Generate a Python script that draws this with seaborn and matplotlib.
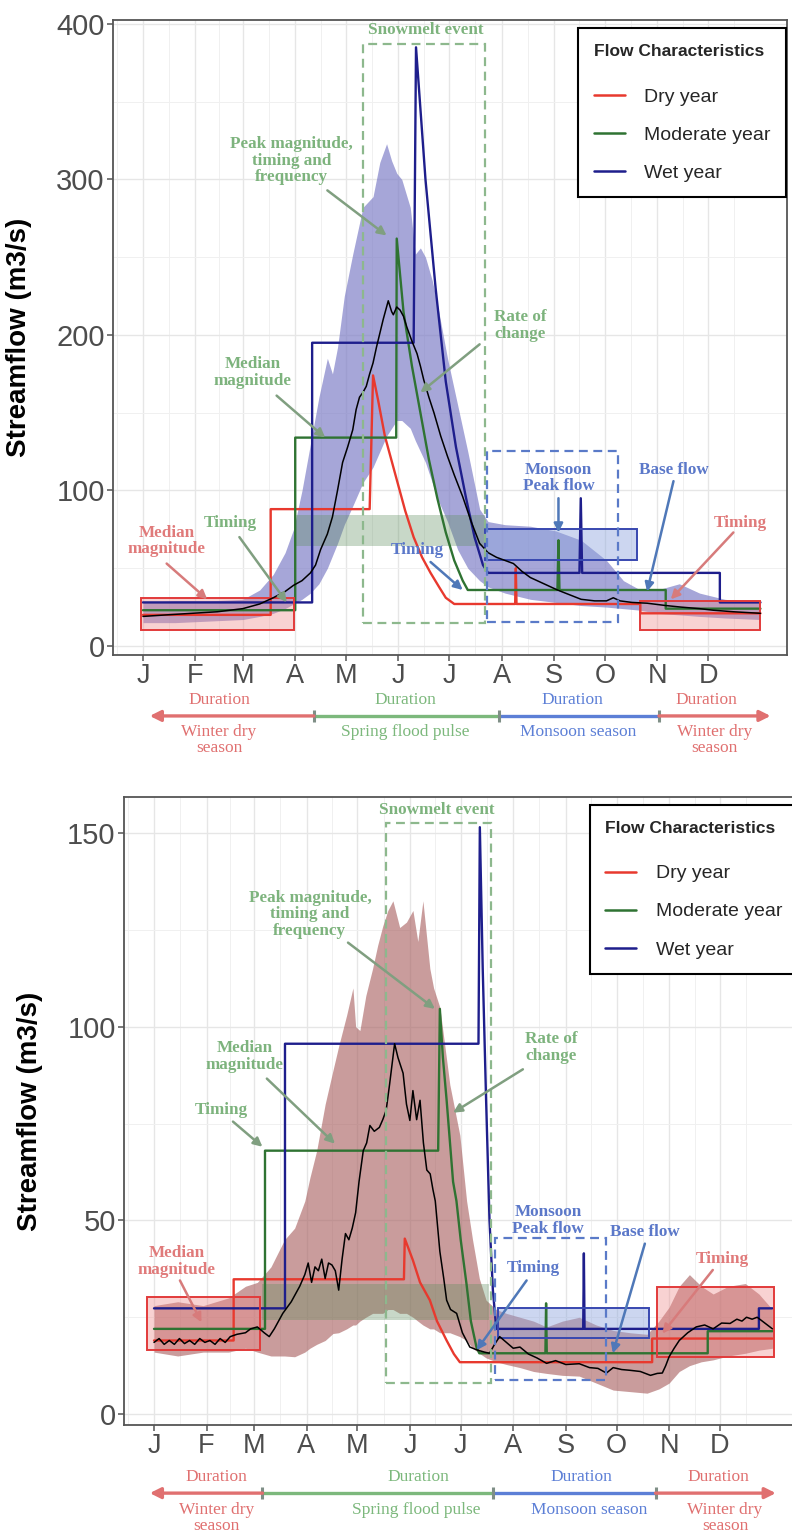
import matplotlib
matplotlib.use("Agg")
import matplotlib.pyplot as plt
from matplotlib.patches import Rectangle
from matplotlib.lines import Line2D
import numpy as np
import pandas as pd
import seaborn as sns

sns.set_theme(style="whitegrid")
plt.rcParams["font.family"] = ["Liberation Sans", "DejaVu Sans"]

# ---------------------------------------------------------------- calendar
MONTH_START = [1, 32, 60, 91, 121, 152, 182, 213, 244, 274, 305, 335]
MONTH_LABELS = ["J", "F", "M", "A", "M", "J", "J", "A", "S", "O", "N", "D"]
YEAR_NAMES = ["Dry year", "Moderate year", "Wet year"]

# ================================================================ upper site
top_median = [
    (1, 19), (15, 20), (30, 21), (45, 22), (60, 24), (70, 27), (78, 31), (85, 35),
    (90, 39), (95, 42), (100, 47), (103, 52), (106, 62), (110, 72), (113, 83),
    (116, 100), (119, 118), (122, 128), (125, 139), (127, 152), (129, 160),
    (131, 163), (133, 167), (135, 175), (137, 182), (139, 192), (141, 201),
    (143, 210), (146, 222), (148, 215), (149, 213), (151, 218), (153, 216),
    (155, 212), (157, 205), (160, 196), (163, 188), (165, 180), (167, 171),
    (170, 160), (173, 150), (177, 135), (181, 122), (185, 110), (190, 96),
    (195, 80), (200, 66), (205, 60), (210, 57), (215, 55), (220, 53), (225, 48),
    (230, 44), (238, 40), (246, 36), (253, 33), (260, 30), (268, 29), (275, 29),
    (279, 31), (283, 29), (290, 28), (299, 27.5), (310, 26), (319, 25), (330, 24),
    (338, 23), (350, 22), (358, 21.5), (366, 21),
]
top_band_doy = [1, 20, 40, 60, 70, 78, 85, 90, 95, 100, 105, 110, 113, 116, 120,
                125, 131, 137, 141, 145, 148, 151, 154, 159, 162, 165, 168, 172,
                175, 181, 187, 193, 200, 205, 215, 230, 245, 260, 275, 285, 295,
                305, 318, 330, 345, 366]
top_band_low = [15, 15, 16, 17, 19, 21, 24, 27, 30, 34, 40, 50, 58, 66, 78, 90,
                105, 115, 125, 135, 140, 145, 145, 140, 132, 125, 118, 105, 95,
                80, 62, 50, 42, 38, 34, 30, 28, 26, 25, 24, 23, 21, 20, 19, 18, 17]
top_band_high = [28, 29, 29, 30, 36, 46, 60, 75, 100, 130, 160, 185, 175, 192,
                 225, 252, 282, 289, 311, 323, 312, 304, 300, 282, 252, 256, 250,
                 235, 220, 185, 155, 125, 88, 80, 78, 77, 74, 68, 55, 42, 36, 36,
                 40, 34, 30, 28]
top_dry = [
    (1, 20), (76.5, 20), (76.5, 88), (135, 88), (137, 174), (140, 158), (144, 135),
    (151, 107), (156, 87), (161, 70), (166, 57), (171, 47), (176, 38), (180, 31),
    (185, 27), (221, 27), (221.4, 50), (221.8, 27), (295, 27), (295, 21), (366, 21),
]
top_moderate = [
    (1, 23), (91, 23), (91, 134), (150.7, 134), (151, 262), (155, 215), (160, 180),
    (165, 150), (170, 120), (175, 95), (180, 73), (185, 55), (190, 42), (193, 36),
    (246, 36), (246.6, 68), (247.2, 36), (310, 36), (310, 24), (366, 24),
]
top_wet = [
    (1, 28), (101, 28), (101, 195), (161, 195), (162.4, 385), (168, 300), (174, 230),
    (180, 170), (186, 128), (192, 95), (197, 70), (202, 52), (205, 47), (259, 47),
    (259.8, 95), (260.6, 47), (342, 47), (342, 28), (366, 28),
]
# (start day, end day, low flow, high flow)
top_dry_boxes = [(0, 90, 10, 31), (295, 366, 10, 29)]
top_spring_box = (90, 203, 64, 84)
top_monsoon_box = (203, 293, 55, 75)
top_snowmelt_window = (131, 203, 15, 387)
top_monsoon_window = (204.6, 282, 15.6, 125.6)
top_season_edges = [5, 102, 211.5, 306, 372]
top_duration_x = [46, 156, 255, 334]
top_season_x = [46, 156, 258, 339]

# ================================================================ lower site
bot_median = [
    (1, 18.5), (4, 19.5), (7, 18), (10, 19), (13, 18), (16, 19.5), (19, 18.2),
    (22, 19), (25, 18), (28, 19.5), (31, 18.5), (34, 19), (37, 18), (40, 19.5),
    (43, 18.5), (46, 20), (50, 20.6), (55, 21), (58, 22), (62, 22.5), (66, 21),
    (69, 20), (72, 22), (77, 26), (82, 29), (87, 33), (90, 36), (92, 39), (94, 34),
    (96, 38), (98, 37), (100, 40), (102, 35), (104, 39), (106, 38.5), (108, 37),
    (110, 32), (112, 40), (114, 46.6), (116, 45), (118, 48), (120, 52), (122, 60),
    (124.5, 68), (126.5, 70), (128.4, 74.5), (131, 73), (134, 74), (136, 76),
    (138, 78.4), (140, 85), (143, 95.6), (145, 92), (148, 88), (150, 80),
    (152, 75.8), (153.8, 83.5), (156, 76), (158, 81), (160, 70), (162, 63),
    (164, 62), (165.6, 58), (167, 55), (169.7, 42), (172, 35), (173.7, 29.4),
    (176, 27), (179.6, 26), (183, 21), (187.4, 17.3), (192, 16.5), (196, 16),
    (199, 15.7), (202, 18), (205, 20), (209, 18.5), (213, 17), (217, 17.3),
    (222, 15.5), (227, 14.5), (232.7, 13.1), (238, 13.8), (244, 12.8), (252, 13),
    (258, 12), (263, 11.8), (268, 10.6), (272, 12), (277, 11.5), (282, 11.3),
    (288, 11), (294, 10), (298, 10.5), (301, 10.6), (303, 12.5), (305, 14.8),
    (308, 17), (311, 19), (316, 21), (321, 22.5), (326, 23), (331, 22), (336, 23.5),
    (341, 23.4), (345, 24.5), (348, 24), (350.7, 25), (354, 24.5), (357, 25),
    (360, 24), (363, 23), (366, 22),
]
bot_band_doy = [1, 15, 30, 45, 55, 62, 70, 78, 84, 90, 93, 97, 102, 106.6, 110,
                114.7, 118.4, 120, 122.5, 126, 130, 133, 136, 139, 142, 146, 150,
                153.8, 156.7, 159.7, 163.8, 166, 169.7, 175.6, 181.5, 185.5, 189,
                193, 197, 203, 209, 217, 225, 232.7, 242, 252, 262, 272, 282, 292,
                299, 305, 311, 317, 324, 331, 340, 350, 358, 366]
bot_band_low = [16, 15, 16, 16, 17, 16, 15, 15, 14.8, 16, 17, 18, 19, 20.8, 21,
                22, 23, 23, 24, 25, 26, 26, 26, 27, 27, 26, 26, 25, 24, 23, 22, 22,
                21, 21, 20, 19, 17, 15.7, 14.5, 13.5, 12.8, 12, 11, 10.5, 10, 9.8,
                8, 6.2, 5.8, 5.4, 6.5, 8, 11, 12.5, 13.5, 14, 15, 15.7, 16.5, 17]
bot_band_high = [28, 29, 28, 30, 33, 34, 38, 45, 48, 55, 61, 68, 80, 88.7, 95,
                 103, 110, 100, 99, 108, 115, 121, 126, 130, 132.5, 125.6, 127, 130,
                 122, 132.5, 115, 110, 105, 85, 72, 55, 45, 35, 29.4, 27, 26, 25, 24,
                 22.5, 24, 25, 23, 21.6, 21, 20.6, 24, 27.6, 33, 36, 33, 31, 33,
                 33.7, 31, 27]
bot_dry = [
    (1, 19), (48, 19), (48, 34.8), (148.5, 34.8), (149, 45.3), (153.8, 39.7),
    (158, 34), (163.8, 29.4), (168, 24), (173.7, 19), (178, 15.5), (181.5, 13.4),
    (295, 13.4), (295, 19.5), (366, 19.5),
]
bot_moderate = [
    (1, 22), (66.5, 22), (66.5, 68), (168.7, 68), (169.7, 104.6), (171.5, 92),
    (173.7, 81), (177.5, 60), (179.5, 55), (182, 45), (185.4, 33.7), (188, 24),
    (191.3, 17.3), (193, 15.7), (232, 15.7), (232.4, 28.6), (232.8, 15.7),
    (327.8, 15.7), (327.8, 21.4), (366, 21.4),
]
bot_wet = [
    (1, 27.3), (78.3, 27.3), (78.3, 95.6), (192.5, 95.6), (193.3, 151.5), (195, 115),
    (197, 81), (199, 50), (201, 32), (203, 22), (254.3, 22), (254.7, 41.5),
    (255.1, 22), (358, 22), (358, 27.3), (366, 27.3),
]
bot_dry_boxes = [(-3, 63.5, 16.5, 30.2), (297.6, 367, 14.8, 32.8)]
bot_spring_box = (65, 199, 24.2, 33.7)
bot_monsoon_box = (204, 293, 19.6, 27.3)
bot_snowmelt_window = (138, 200, 8, 152.5)
bot_monsoon_window = (202, 268, 8.8, 45.4)
bot_season_edges = [-1.5, 65, 201, 297, 368]
bot_duration_x = [38, 157, 253, 334]
bot_season_x = [38, 156, 258, 338]

# ---------------------------------------------------------------- styling
DRY_C, MOD_C, WET_C = "#E8392E", "#2F7332", "#1E1E8C"
TXT_G, TXT_R, TXT_B = "#7DB37D", "#E07A7A", "#5B78C9"
ARR_G, ARR_R, ARR_B = "#809F80", "#D77B7B", "#4F78B8"
SERIF = ["Liberation Serif", "DejaVu Serif"]
XLIM = (-16.7, 381.7)

fig = plt.figure(figsize=(7.92, 15.35), dpi=100)
ax_top = fig.add_axes([0.1427, 0.5733, 0.8510, 0.4137])
ax_bot = fig.add_axes([0.1566, 0.0717, 0.8523, 0.4091])


def to_frame(pts):
    return pd.DataFrame(pts, columns=["doy", "flow"])


def draw_box(ax, box, face, edge, alpha, lw, z):
    x0, x1, y0, y1 = box
    ax.add_patch(Rectangle((x0, y0), x1 - x0, y1 - y0, facecolor=face,
                           alpha=alpha, edgecolor="none", zorder=z))
    if edge is not None:
        ax.add_patch(Rectangle((x0, y0), x1 - x0, y1 - y0, facecolor="none",
                               edgecolor=edge, lw=lw, zorder=z + 2))


def draw_window(ax, box, color):
    x0, x1, y0, y1 = box
    ax.add_patch(Rectangle((x0, y0), x1 - x0, y1 - y0, facecolor="none",
                           edgecolor=color, lw=1.6, ls=(0, (4, 2.5)), zorder=6))


def note(ax, text, xy, color, start=None, end=None, arrow_color=None):
    ax.text(xy[0], xy[1], text, color=color, family=SERIF, weight="bold",
            fontsize=12.3, ha="center", va="center", linespacing=1.05, zorder=8)
    if start is not None:
        ax.annotate("", xy=end, xytext=start, zorder=8,
                    arrowprops=dict(arrowstyle="-|>", color=arrow_color, lw=1.8,
                                    mutation_scale=13, shrinkA=0, shrinkB=0))


def seasons(ax, edges, dur_x, season_x, y_dur, y_line, y_label):
    red, green, blue = "#E07070", "#7CB87C", "#5C7FD6"
    kw = dict(annotation_clip=False)
    ax.annotate("", xy=(edges[0], y_line), xytext=(edges[1], y_line), **kw,
                arrowprops=dict(arrowstyle="-|>", color=red, lw=2.4,
                                mutation_scale=16, shrinkA=0, shrinkB=0))
    ax.plot([edges[1], edges[2]], [y_line, y_line], color=green, lw=2.4,
            clip_on=False, solid_capstyle="butt")
    ax.plot([edges[2], edges[3]], [y_line, y_line], color=blue, lw=2.4,
            clip_on=False, solid_capstyle="butt")
    ax.annotate("", xy=(edges[4], y_line), xytext=(edges[3], y_line), **kw,
                arrowprops=dict(arrowstyle="-|>", color=red, lw=2.4,
                                mutation_scale=16, shrinkA=0, shrinkB=0))
    ax.plot(edges[1:4], [y_line] * 3, ls="none", marker="|", ms=9, mew=2.2,
            color="#7F8F86", clip_on=False)
    cols = [red, green, blue, red]
    labels = ["Winter dry\nseason", "Spring flood pulse", "Monsoon season",
              "Winter dry\nseason"]
    for x, c in zip(dur_x, cols):
        ax.text(x, y_dur, "Duration", color=c, family=SERIF, fontsize=12.5,
                ha="center", va="center", clip_on=False)
    for x, c, lab in zip(season_x, cols, labels):
        ax.text(x, y_label, lab, color=c, family=SERIF, fontsize=12.5,
                ha="center", va="top", linespacing=1.0, clip_on=False)


def panel(ax, median, band_doy, band_low, band_high, band_color, band_alpha,
          years, dry_boxes, spring_box, monsoon_box, snow_win, mon_win, ylim,
          yticks, yminor):
    ax.fill_between(band_doy, band_low, band_high, color=band_color,
                    alpha=band_alpha, lw=0, zorder=1)
    for b in dry_boxes:
        draw_box(ax, b, "#EE8A8A", "#E23A3A", 0.38, 1.4, 2)
    draw_box(ax, spring_box, "#5E8F5E", None, 0.34, 0.8, 2)
    draw_box(ax, monsoon_box, "#8FA6DE", "#3848B0", 0.45, 1.4, 2)

    frames = []
    for name, pts in zip(YEAR_NAMES, years):
        df = to_frame(pts)
        df["year"] = name
        frames.append(df)
    long = pd.concat(frames, ignore_index=True)
    sns.lineplot(data=long, x="doy", y="flow", hue="year", hue_order=YEAR_NAMES,
                 palette=[DRY_C, MOD_C, WET_C], estimator=None, sort=False,
                 lw=1.7, legend=False, ax=ax, zorder=3)
    sns.lineplot(data=to_frame(median), x="doy", y="flow", color="black",
                 estimator=None, sort=False, lw=1.1, ax=ax, zorder=5)

    draw_window(ax, snow_win, "#8DB88D")
    draw_window(ax, mon_win, "#5A7AC8")

    ax.set_xlim(*XLIM)
    ax.set_ylim(*ylim)
    ax.set_xticks(MONTH_START)
    ax.set_xticklabels(MONTH_LABELS)
    mids = [(a + b) / 2 for a, b in zip(MONTH_START, MONTH_START[1:] + [366])]
    ax.set_xticks([-14.5] + mids, minor=True)
    ax.set_yticks(yticks)
    ax.set_yticks(yminor, minor=True)
    ax.grid(which="major", color="#E6E6E6", lw=1.0)
    ax.grid(which="minor", color="#F0F0F0", lw=0.7)
    ax.set_axisbelow(True)
    ax.tick_params(which="major", length=4, width=1.1, color="#555555",
                   labelcolor="#4D4D4D", pad=2, bottom=True, left=True)
    ax.tick_params(axis="y", labelsize=21)
    ax.tick_params(axis="x", labelsize=19.5)
    ax.tick_params(which="minor", length=0)
    for sp in ax.spines.values():
        sp.set_edgecolor("#555555")
        sp.set_linewidth(1.3)
    ax.set_xlabel("")
    ax.set_ylabel("Streamflow (m3/s)", fontsize=20, weight="bold", color="black")
    ax.yaxis.set_label_coords(-0.12, 0.5)

    handles = [Line2D([0], [0], color=c, lw=1.8) for c in (DRY_C, MOD_C, WET_C)]
    leg = ax.legend(handles, YEAR_NAMES, title="Flow Characteristics",
                    loc="upper left", bbox_to_anchor=(0.69, 0.987),
                    borderaxespad=0, fontsize=14, title_fontsize=12.5,
                    frameon=True, fancybox=False, edgecolor="black",
                    framealpha=1, handlelength=1.6, handletextpad=1.0,
                    labelspacing=1.05, borderpad=0.8, alignment="left")
    leg.get_title().set_weight("bold")
    leg.get_frame().set_linewidth(1.5)
    leg._legend_box.sep = 21
    leg.set_zorder(10)


panel(ax_top, top_median, top_band_doy, top_band_low, top_band_high, "#8080C8",
      0.7, [top_dry, top_moderate, top_wet], top_dry_boxes, top_spring_box,
      top_monsoon_box, top_snowmelt_window, top_monsoon_window, (-5.8, 402.6),
      [0, 100, 200, 300, 400], [50, 150, 250, 350])
panel(ax_bot, bot_median, bot_band_doy, bot_band_low, bot_band_high, "#A86060",
      0.62, [bot_dry, bot_moderate, bot_wet], bot_dry_boxes, bot_spring_box,
      bot_monsoon_box, bot_snowmelt_window, bot_monsoon_window, (-2.8, 159.3),
      [0, 50, 100, 150], [25, 75, 125])

# annotations: upper site
note(ax_top, "Snowmelt event", (168, 396), TXT_G)
note(ax_top, "Peak magnitude,\ntiming and\nfrequency", (89, 312), TXT_G,
     (110, 293), (145, 264), ARR_G)
note(ax_top, "Rate of\nchange", (224, 206), TXT_G, (200, 194), (165, 163), ARR_G)
note(ax_top, "Median\nmagnitude", (66, 176), TXT_G, (80, 161), (108.7, 134), ARR_G)
note(ax_top, "Timing", (52.5, 79), TXT_G, (58, 70), (86, 28), ARR_G)
note(ax_top, "Median\nmagnitude", (15, 67.5), TXT_R, (15, 53), (39, 30), ARR_R)
note(ax_top, "Timing", (163, 62), TXT_B, (171, 54), (190, 36), ARR_B)
note(ax_top, "Monsoon\nPeak flow", (246.6, 108), TXT_B, (246.6, 95), (246.6, 73), ARR_B)
note(ax_top, "Base flow", (314.6, 113), TXT_B, (314.6, 106), (299, 35), ARR_B)
note(ax_top, "Timing", (354, 79), TXT_R, (350, 73), (313, 30), ARR_R)

# annotations: lower site
note(ax_bot, "Snowmelt event", (168, 156), TXT_G)
note(ax_bot, "Peak magnitude,\ntiming and\nfrequency", (93, 129), TXT_G,
     (115.5, 121.7), (166.8, 104.6), ARR_G)
note(ax_bot, "Rate of\nchange", (235.6, 94.6), TXT_G, (218.7, 89), (177.5, 77.8), ARR_G)
note(ax_bot, "Median\nmagnitude", (54.7, 92.3), TXT_G, (67.6, 86.6), (107.8, 69.8), ARR_G)
note(ax_bot, "Timing", (41, 78.4), TXT_G, (47.6, 75.5), (65, 69), ARR_G)
note(ax_bot, "Median\nmagnitude", (14.4, 39.4), TXT_R, (16.3, 34.5), (29, 23.7), ARR_R)
note(ax_bot, "Monsoon\nPeak flow", (233.5, 50), TXT_B)
note(ax_bot, "Base flow", (290.7, 47), TXT_B, (290.7, 44), (271.8, 15.7), ARR_B)
note(ax_bot, "Timing", (224.6, 37.6), TXT_B, (220.9, 34.5), (191.4, 16.5), ARR_B)
note(ax_bot, "Timing", (336.7, 40), TXT_R, (330.8, 37.2), (301, 20.8), ARR_R)

# season durations beneath each panel
seasons(ax_top, top_season_edges, top_duration_x, top_season_x, -34.7, -45, -50)
seasons(ax_bot, bot_season_edges, bot_duration_x, bot_season_x, -16.2, -20.4, -22.6)

fig.savefig("out.png", dpi=100)
